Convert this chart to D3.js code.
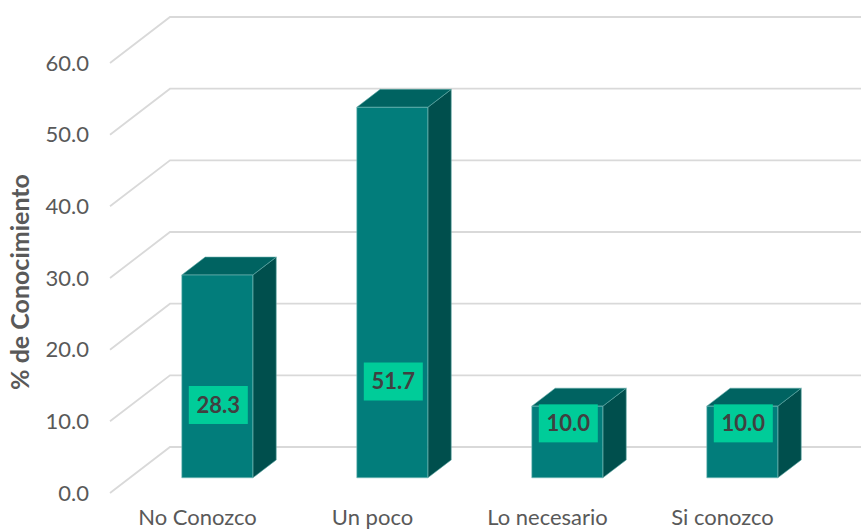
<!DOCTYPE html>
<html>
<head>
<meta charset="utf-8">
<script src="https://cdn.jsdelivr.net/npm/d3@7"></script>
<style>
  body { margin: 0; background: #fff; }
  svg { display: block; font-family: Lato, "Open Sans", sans-serif; }
</style>
</head>
<body>
<div id="chart"></div>
<script>
// Chart data
const categories = ['No Conozco', 'Un poco', 'Lo necesario', 'Si conozco'];
const values = [28.3, 51.7, 10.0, 10.0];
const yTicks = [0, 10, 20, 30, 40, 50, 60];
const yTitle = '% de Conocimiento';

const width = 861, height = 531;

// 3D oblique offset for full depth of the chart floor
const depthX = 60, depthY = -46;
const barD0 = 0.33, barD1 = 0.72;   // bar depth range inside the floor

const svg = d3.select('#chart').append('svg')
    .attr('width', width)
    .attr('height', height);

const y = d3.scaleLinear().domain([0, 60]).range([493, 63]);
const x = d3.scaleBand().domain(categories).range([110, 810]).padding(0);
const barW = x.bandwidth() * 0.406;

// Gridlines: diagonal on the side wall, then flat across the back wall
const grid = svg.append('g');
yTicks.forEach(t => {
    grid.append('path')
        .attr('d', `M110,${y(t)} L${110 + depthX},${y(t) + depthY} L${width},${y(t) + depthY}`)
        .attr('fill', 'none')
        .attr('stroke', '#d9d9d9')
        .attr('stroke-width', 1.8);
});

// Y tick labels
svg.append('g').selectAll('text')
    .data(yTicks)
    .enter()
    .append('text')
    .attr('x', 89)
    .attr('y', d => y(d))
    .attr('dy', '0.35em')
    .attr('text-anchor', 'end')
    .style('font-size', '22px')
    .style('fill', '#595959')
    .text(d => d.toFixed(1));

// Y axis title
svg.append('text')
    .attr('transform', 'translate(29,282) rotate(-90)')
    .attr('text-anchor', 'middle')
    .style('font-size', '25px')
    .style('font-weight', 'bold')
    .style('fill', '#595959')
    .text(yTitle);

// Bars
const bars = svg.append('g').selectAll('g')
    .data(categories.map((c, i) => ({ c, v: values[i] })))
    .enter()
    .append('g');

function corner(d, v, side, depth) {
    const cx = x(d.c) + x.bandwidth() / 2;
    const px = cx + (side === 'L' ? -barW / 2 : barW / 2) + depth * depthX;
    const py = y(v) + depth * depthY;
    return [px, py];
}
function poly(pts) {
    return 'M' + pts.map(p => p.join(',')).join('L') + 'Z';
}

// right side face
bars.append('path')
    .attr('d', d => poly([
        corner(d, 0, 'R', barD0), corner(d, 0, 'R', barD1),
        corner(d, d.v, 'R', barD1), corner(d, d.v, 'R', barD0)
    ]))
    .attr('fill', '#004f4d')
    .attr('stroke', '#5fa9a6')
    .attr('stroke-width', 0.6);

// top face
bars.append('path')
    .attr('d', d => poly([
        corner(d, d.v, 'L', barD0), corner(d, d.v, 'R', barD0),
        corner(d, d.v, 'R', barD1), corner(d, d.v, 'L', barD1)
    ]))
    .attr('fill', '#006361')
    .attr('stroke', '#5fa9a6')
    .attr('stroke-width', 0.6);

// front face
bars.append('path')
    .attr('d', d => poly([
        corner(d, 0, 'L', barD0), corner(d, 0, 'R', barD0),
        corner(d, d.v, 'R', barD0), corner(d, d.v, 'L', barD0)
    ]))
    .attr('fill', '#027d7b')
    .attr('stroke', '#7fbfbd')
    .attr('stroke-width', 0.6);

// Data labels
const labelH = v => 6.2 + 0.14 * v;
const labels = bars.append('g')
    .attr('transform', d => {
        const cx = x(d.c) + x.bandwidth() / 2 + barD0 * depthX + 1;
        const cy = y(labelH(d.v)) + barD0 * depthY;
        return `translate(${cx},${cy})`;
    });
labels.append('rect')
    .attr('x', -29.5)
    .attr('y', -19)
    .attr('width', 59)
    .attr('height', 38)
    .attr('fill', '#00cc99');
labels.append('text')
    .attr('text-anchor', 'middle')
    .attr('dy', '0.36em')
    .style('font-size', '22px')
    .style('font-weight', 'bold')
    .style('fill', '#404040')
    .text(d => d.v.toFixed(1));

// X category labels
svg.append('g').selectAll('text')
    .data(categories)
    .enter()
    .append('text')
    .attr('x', d => x(d) + x.bandwidth() / 2)
    .attr('y', 525)
    .attr('text-anchor', 'middle')
    .style('font-size', '22px')
    .style('fill', '#595959')
    .text(d => d);
</script>
</body>
</html>
